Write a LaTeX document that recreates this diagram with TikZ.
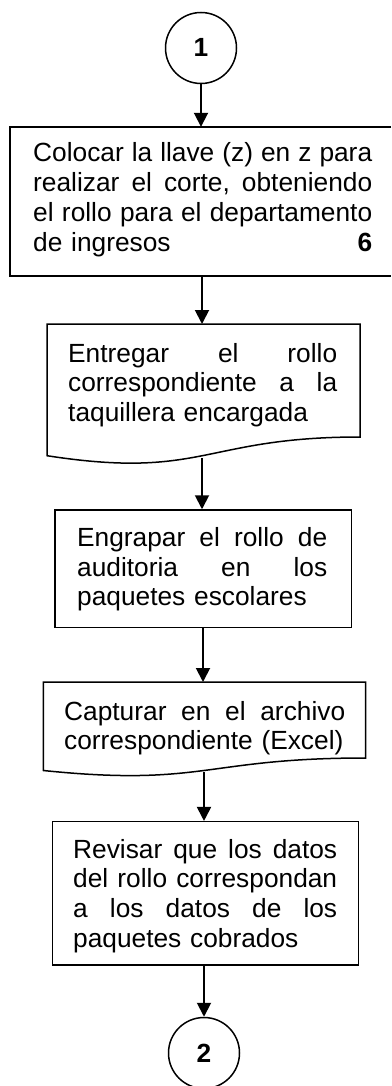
\documentclass[tikz,border=0pt]{standalone}
\usepackage{fontspec}
\setmainfont{Liberation Sans}
\usetikzlibrary{arrows.meta}
\newcommand\jsp{\hspace{0.278em plus 1fill}}
\begin{document}
\begin{tikzpicture}[x=1pt,y=-1pt,
  txt/.style={font=\fontsize{26.3}{29.7}\selectfont, inner sep=0pt, anchor=base west, align=left},
  boxline/.style={draw=black, line width=1.5pt},
  rbox/.style={draw=black, line width=1.5pt, inner sep=0pt},
  arr/.style={line width=1.9pt, -{Triangle[length=14pt,width=14pt]}},
  conn/.style={circle, draw=black, line width=1.5pt, minimum size=71pt, inner sep=0pt, font=\fontsize{26.3}{30}\selectfont\bfseries}]
\useasboundingbox (0,0) rectangle (391,1086);

% connectors (circles)
\node[conn] (c1) at (201,48) {\raisebox{2pt}{1}};
\node[conn] (c2) at (204,1053) {2};

% box 1 (its right side runs past the picture edge)
\node[inner sep=0pt, minimum width=381pt, minimum height=149pt] (b1) at (200.5,201.5) {};
\draw[line width=2pt] (b1.north east) -- (b1.north west) -- (b1.south west) -- (b1.south east);
\node[txt, text width=339pt] (t1) at (33,162) {Colocar\jsp la\jsp llave\jsp (z)\jsp en\jsp z\jsp para\\
realizar\jsp el\jsp corte,\jsp obteniendo\\
el\jsp rollo\jsp para\jsp el\jsp departamento\\
de ingresos\hfill\textbf{6}\hspace*{13pt}};

% document 1
\draw[boxline] (47,324) -- (360,324) -- (360,437) .. controls (203.5,437) and (203.5,480) .. (47,455.7) -- cycle;
\coordinate (d1t) at (202,324);
\coordinate (d1b) at (202,458);
\node[txt, text width=269pt] (t2) at (68,362) {Entregar\jsp el\jsp rollo\\
correspondiente\jsp a\jsp la\\
taquillera encargada};

% box 3
\node[rbox, minimum width=296.5pt, minimum height=117.5pt] (b3) at (203.25,568.75) {};
\node[txt, text width=250pt] (t3) at (77,546.5) {Engrapar\jsp el\jsp rollo\jsp de\\
auditoria\jsp en\jsp los\\
paquetes escolares};

% document 2
\draw[boxline] (43.3,682) -- (365.5,682) -- (365.5,758) .. controls (204.4,758) and (204.4,787) .. (43.3,770.5) -- cycle;
\coordinate (d2t) at (203,682);
\coordinate (d2b) at (204,772);
\node[txt, text width=281pt] (t4) at (64,720) {Capturar\jsp en\jsp el\jsp archivo\\
correspondiente (Excel)};

% box 5
\node[rbox, minimum width=306pt, minimum height=143.3pt] (b5) at (205.3,893.35) {};
\node[txt, text width=264pt] (t5) at (73,858) {Revisar\jsp que\jsp los\jsp datos\\
del\jsp rollo\jsp correspondan\\
a\jsp los\jsp datos\jsp de\jsp los\\
paquetes cobrados};

% arrows
\draw[arr] (c1.south) -- (c1.south |- b1.north);
\draw[arr] (b1.south -| d1t) -- (d1t);
\draw[arr] (d1b) -- (d1b |- b3.north);
\draw[arr] (b3.south -| d2t) -- (d2t);
\draw[arr] (d2b) -- (d2b |- b5.north);
\draw[arr] (c2.north |- b5.south) -- (c2.north);
\end{tikzpicture}
\end{document}
